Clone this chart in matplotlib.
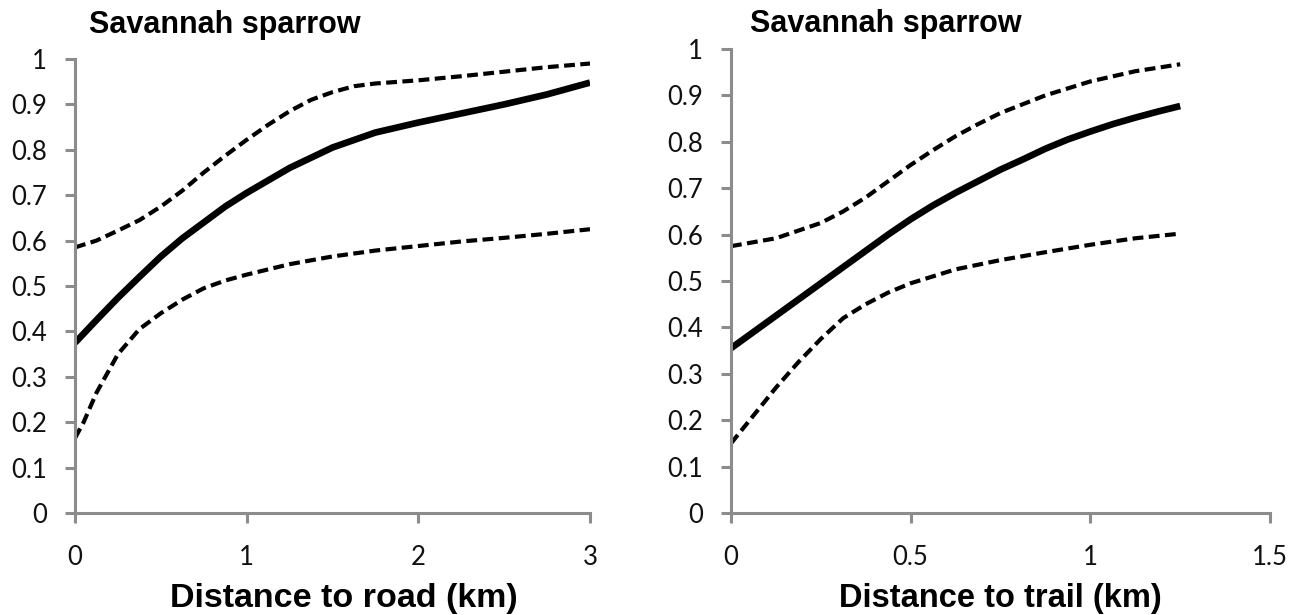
import matplotlib
matplotlib.use('Agg')
import matplotlib.pyplot as plt

# distance to road (km)
road_mean_x = [0, 0.125, 0.25, 0.375, 0.5, 0.625, 0.75, 0.875, 1.0, 1.25, 1.5, 1.75, 2.0, 2.25, 2.5, 2.75, 3.0]
road_mean = [0.375, 0.425, 0.474, 0.52, 0.565, 0.605, 0.64, 0.675, 0.705, 0.76, 0.805, 0.838, 0.86, 0.88,
             0.90, 0.922, 0.948]
road_upper_x = [0, 0.125, 0.25, 0.375, 0.5, 0.625, 0.75, 0.875, 1.0, 1.125, 1.25, 1.375, 1.5, 1.625, 1.75,
                2.0, 2.25, 2.5, 2.75, 3.0]
road_upper = [0.585, 0.60, 0.622, 0.645, 0.675, 0.71, 0.75, 0.787, 0.822, 0.855, 0.885, 0.91, 0.927, 0.94,
              0.946, 0.953, 0.962, 0.972, 0.982, 0.99]
road_lower_x = [0, 0.05, 0.125, 0.25, 0.375, 0.5, 0.625, 0.75, 0.875, 1.0, 1.25, 1.5, 1.75, 2.0, 2.25, 2.5,
                2.75, 3.0]
road_lower = [0.165, 0.20, 0.265, 0.35, 0.405, 0.44, 0.47, 0.495, 0.512, 0.525, 0.548, 0.565, 0.578, 0.588,
              0.598, 0.606, 0.615, 0.625]

# distance to trail (km)
trail_mean_x = [0, 0.0625, 0.125, 0.1875, 0.25, 0.3125, 0.375, 0.4375, 0.5, 0.5625, 0.625, 0.6875, 0.75,
                0.8125, 0.875, 0.9375, 1.0, 1.0625, 1.125, 1.1875, 1.25]
trail_mean = [0.355, 0.39, 0.425, 0.46, 0.495, 0.53, 0.565, 0.60, 0.633, 0.663, 0.69, 0.715, 0.74, 0.762,
              0.785, 0.805, 0.822, 0.838, 0.852, 0.865, 0.877]
trail_upper_x = [0, 0.125, 0.25, 0.3125, 0.375, 0.4375, 0.5, 0.5625, 0.625, 0.6875, 0.75, 0.875, 1.0,
                 1.125, 1.25]
trail_upper = [0.575, 0.592, 0.625, 0.65, 0.68, 0.715, 0.75, 0.782, 0.812, 0.838, 0.862, 0.90, 0.93, 0.952,
               0.967]
trail_lower_x = [0, 0.0625, 0.125, 0.1875, 0.25, 0.3125, 0.375, 0.4375, 0.5, 0.625, 0.75, 0.875, 1.0, 1.125,
                 1.25]
trail_lower = [0.15, 0.21, 0.27, 0.325, 0.375, 0.42, 0.45, 0.475, 0.495, 0.525, 0.545, 0.562, 0.578, 0.592,
               0.602]

y_ticks = [0, 0.1, 0.2, 0.3, 0.4, 0.5, 0.6, 0.7, 0.8, 0.9, 1]
y_tick_labels = ['0', '0.1', '0.2', '0.3', '0.4', '0.5', '0.6', '0.7', '0.8', '0.9', '1']

title = 'Savannah sparrow'
bold_font = ['Liberation Sans', 'DejaVu Sans']

fig = plt.figure(figsize=(13.03, 6.15), dpi=100)
ax1 = fig.add_axes([0.0576, 0.1659, 0.3952, 0.7382])
ax2 = fig.add_axes([0.5610, 0.1659, 0.4137, 0.7545])

panels = [
    (ax1, road_mean_x, road_mean, road_upper_x, road_upper, road_lower_x, road_lower,
     [0, 1, 2, 3], ['0', '1', '2', '3'], 3),
    (ax2, trail_mean_x, trail_mean, trail_upper_x, trail_upper, trail_lower_x, trail_lower,
     [0, 0.5, 1, 1.5], ['0', '0.5', '1', '1.5'], 1.5),
]

dash = (0, (2.6, 1.3))
for ax, mx, m, ux, up, lx, lo, xt, xtl, xmax in panels:
    ax.plot(ux, up, color='black', lw=3, ls=dash)
    ax.plot(lx, lo, color='black', lw=3, ls=dash)
    ax.plot(mx, m, color='black', lw=4.8, solid_capstyle='butt')
    ax.set_xlim(0, xmax)
    ax.set_ylim(0, 1)
    ax.set_xticks(xt, xtl)
    ax.set_yticks(y_ticks, y_tick_labels)
    for s in ['top', 'right']:
        ax.spines[s].set_visible(False)
    for s in ['left', 'bottom']:
        ax.spines[s].set_color('#8c8c8c')
        ax.spines[s].set_linewidth(2.2)
    ax.tick_params(axis='both', direction='out', colors='#8c8c8c', labelcolor='#111111',
                   length=7.2, width=2.2, labelsize=18.5, labelfontfamily='Lato')
    ax.tick_params(axis='x', pad=16)
    ax.tick_params(axis='y', pad=13)

fig.text(0.0683, 0.946, title, fontsize=22, fontweight='bold', family=bold_font, va='baseline')
fig.text(0.5756, 0.948, title, fontsize=22, fontweight='bold', family=bold_font, va='baseline')
fig.text(0.264, 0.013, 'Distance to road (km)', fontsize=24.5, fontweight='bold', family=bold_font,
         ha='center', va='baseline')
fig.text(0.768, 0.013, 'Distance to trail (km)', fontsize=23.5, fontweight='bold', family=bold_font,
         ha='center', va='baseline')

fig.savefig('out.png', dpi=100)
